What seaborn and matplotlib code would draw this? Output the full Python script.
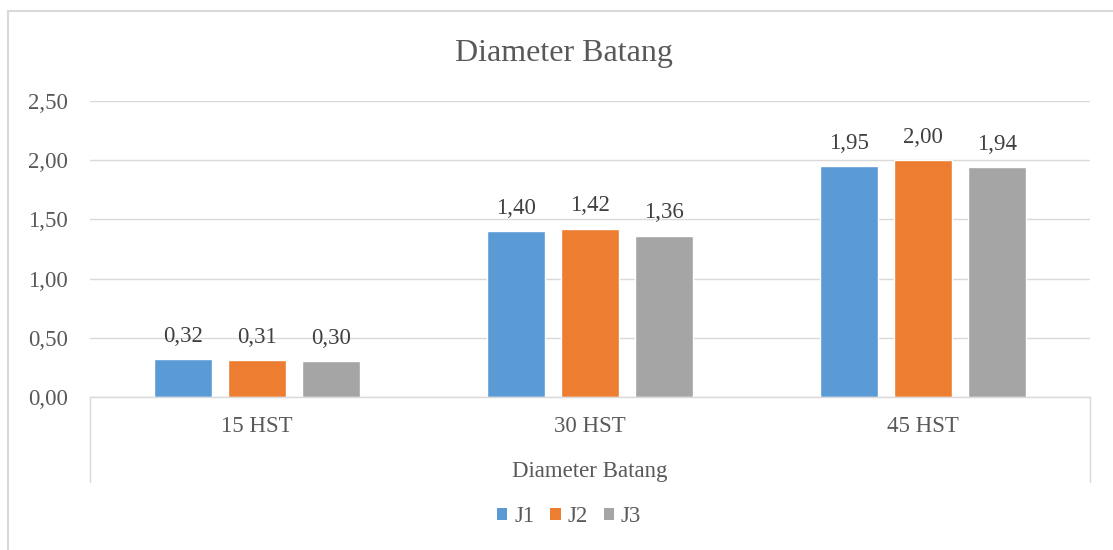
import matplotlib
matplotlib.use("Agg")
import matplotlib.pyplot as plt
from matplotlib.lines import Line2D
from matplotlib.patches import Patch
import pandas as pd
import seaborn as sns

# data
hari = ["15 HST", "30 HST", "45 HST"]
perlakuan = ["J1", "J2", "J3"]
j1 = [0.32, 1.40, 1.95]
j2 = [0.31, 1.42, 2.00]
j3 = [0.30, 1.36, 1.94]
warna = ["#5B9BD5", "#ED7D31", "#A5A5A5"]
yticks = [0.0, 0.5, 1.0, 1.5, 2.0, 2.5]

df = pd.DataFrame({
    "hari": hari * 3,
    "perlakuan": [p for p in perlakuan for _ in hari],
    "nilai": j1 + j2 + j3,
})

sns.set_theme(style="white")
plt.rcParams["font.family"] = ["Liberation Serif", "DejaVu Serif"]
teks = "#595959"
fs = 16.5

fig = plt.figure(figsize=(11.13, 5.5), dpi=100)
ax = fig.add_axes([0.0809, 0.2782, 0.8985, 0.5382])

sns.barplot(data=df, x="hari", y="nilai", hue="perlakuan", palette=warna,
            saturation=1, width=0.666, gap=0.216, legend=False, ax=ax, errorbar=None)

for c in ax.containers:
    ax.bar_label(c, labels=[f"{b.get_height():.2f}".replace(".", ",") for b in c],
                 padding=9, fontsize=fs, color="#404040")

ax.set_ylim(0, 2.5)
ax.set_yticks(yticks)
ax.set_yticklabels([f"{v:.2f}".replace(".", ",") for v in yticks])
ax.yaxis.grid(True, color="#D9D9D9", linewidth=1)
ax.set_axisbelow(True)
for s in ["top", "right", "left"]:
    ax.spines[s].set_visible(False)
ax.spines["bottom"].set_color("#D9D9D9")
ax.spines["bottom"].set_linewidth(1)
ax.tick_params(axis="y", length=0, pad=16, labelsize=fs, labelcolor=teks)
ax.tick_params(axis="x", length=0, pad=14, labelsize=fs, labelcolor=teks)
ax.set_xlabel("Diameter Batang", fontsize=fs, color=teks, labelpad=17)
ax.set_ylabel("")

# box lines under the category axis
for xa in [0, 1]:
    ax.add_line(Line2D([xa, xa], [0, -0.287], transform=ax.transAxes,
                       color="#D9D9D9", linewidth=1, clip_on=False))

fig.text(564 / 1113, 1 - 54 / 550, "Diameter Batang", fontsize=23, color=teks,
         ha="center", va="center")

# chart area border (left and top)
fig.add_artist(Line2D([8 / 1113, 8 / 1113], [0, 1 - 11 / 550], transform=fig.transFigure,
                      color="#D9D9D9", linewidth=1.5))
fig.add_artist(Line2D([8 / 1113, 1], [1 - 11 / 550, 1 - 11 / 550], transform=fig.transFigure,
                      color="#D9D9D9", linewidth=1.5))

handles = [Patch(facecolor=w, edgecolor="none") for w in warna]
leg = fig.legend(handles, perlakuan, loc="center", bbox_to_anchor=(569 / 1113, 1 - 517 / 550),
                 ncol=3, frameon=False, fontsize=fs, handlelength=0.45, handleheight=0.45,
                 handletextpad=0.3, columnspacing=0.7)
for t in leg.get_texts():
    t.set_color(teks)

fig.savefig("out.png", dpi=100, facecolor="white")
